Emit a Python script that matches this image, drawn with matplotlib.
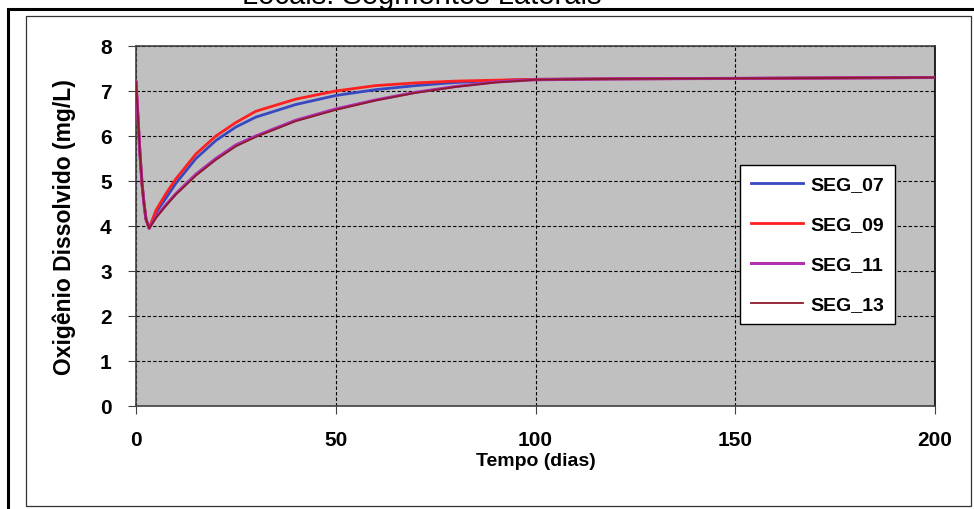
import matplotlib.pyplot as plt
from matplotlib.patches import Rectangle

plt.rcParams['font.family'] = ['Liberation Sans', 'DejaVu Sans']

# Simulated dissolved oxygen per lateral segment (mg/L) vs. time (days)
tempo = [0, 0.5, 1, 1.5, 2, 2.5, 3.3, 5, 7.5, 10, 15, 20, 25, 30, 40, 50, 60, 70, 80, 90, 100, 120, 150, 200]
seg_07 = [7.2, 6.4, 5.6, 4.95, 4.5, 4.15, 3.95, 4.3, 4.62, 4.95, 5.5, 5.9, 6.2, 6.42, 6.7, 6.9, 7.03, 7.12, 7.19, 7.23, 7.26, 7.27, 7.28, 7.3]
seg_09 = [7.2, 6.4, 5.6, 4.95, 4.5, 4.15, 3.95, 4.35, 4.72, 5.05, 5.6, 6.0, 6.3, 6.55, 6.82, 7.0, 7.12, 7.18, 7.22, 7.24, 7.26, 7.27, 7.28, 7.3]
seg_11 = [7.2, 6.4, 5.6, 4.95, 4.5, 4.15, 3.95, 4.2, 4.47, 4.72, 5.15, 5.5, 5.8, 6.0, 6.35, 6.6, 6.8, 6.97, 7.1, 7.2, 7.25, 7.27, 7.28, 7.3]
seg_13 = [7.2, 6.4, 5.6, 4.95, 4.5, 4.15, 3.95, 4.18, 4.45, 4.7, 5.12, 5.47, 5.77, 5.98, 6.33, 6.58, 6.79, 6.96, 7.09, 7.19, 7.25, 7.27, 7.28, 7.3]

fig = plt.figure(figsize=(9.74, 5.10), dpi=100)
fig.patch.set_facecolor('white')

# outer (thick) and inner (thin) frames around the chart
fig.add_artist(Rectangle((8 / 974, -0.05), 1.0, 1.05 - 10 / 510, transform=fig.transFigure,
                         fill=False, edgecolor='black', linewidth=2.2))
fig.add_artist(Rectangle((26 / 974, 3 / 510), 945 / 974, 490 / 510, transform=fig.transFigure,
                         fill=False, edgecolor='#333333', linewidth=0.9))

fig.text(422 / 974, 1 - 4 / 510, 'Locais: Segmentos Laterais', ha='center', va='baseline', fontsize=21)

ax = fig.add_axes([136 / 974, 103 / 510, 799 / 974, 360 / 510])
ax.set_facecolor('#C0C0C0')

ax.plot(tempo, seg_07, color='#3848C0', linewidth=2, label='SEG_07', zorder=3)
ax.plot(tempo, seg_09, color='#FF2020', linewidth=2, label='SEG_09', zorder=3)
ax.plot(tempo, seg_11, color='#B030B0', linewidth=2.2, label='SEG_11', zorder=3)
ax.plot(tempo, seg_13, color='#8B1A2A', linewidth=1.3, label='SEG_13', zorder=4)

ax.set_xlim(0, 200)
ax.set_ylim(0, 8)
ax.set_xticks([0, 50, 100, 150, 200])
ax.set_yticks(range(0, 9))
ax.grid(True, color='black', linestyle=(0, (3, 2)), linewidth=0.8)
for s in ax.spines.values():
    s.set_color('#404040')
    s.set_linewidth(1.2)
ax.spines['right'].set_color('black')
ax.tick_params(axis='both', labelsize=15, length=5.5, color='#404040')
for lbl in ax.get_xticklabels() + ax.get_yticklabels():
    lbl.set_fontweight('bold')
ax.tick_params(axis='x', pad=12)
ax.tick_params(axis='y', pad=12)

ax.set_xlabel('Tempo (dias)', fontsize=14, fontweight='bold', labelpad=2)
ax.set_ylabel('Oxigênio Dissolvido (mg/L)', fontsize=16.5, fontweight='bold', labelpad=17)

leg = ax.legend(loc='upper left', bbox_to_anchor=(0.756, 0.669), borderaxespad=0, fontsize=14,
                frameon=True, fancybox=False, edgecolor='black', framealpha=1, labelspacing=1.15,
                handlelength=2.7, handletextpad=0.35, borderpad=0.55)
for t in leg.get_texts():
    t.set_fontweight('bold')
leg.get_frame().set_linewidth(1.0)

fig.savefig('out.png', dpi=100)
